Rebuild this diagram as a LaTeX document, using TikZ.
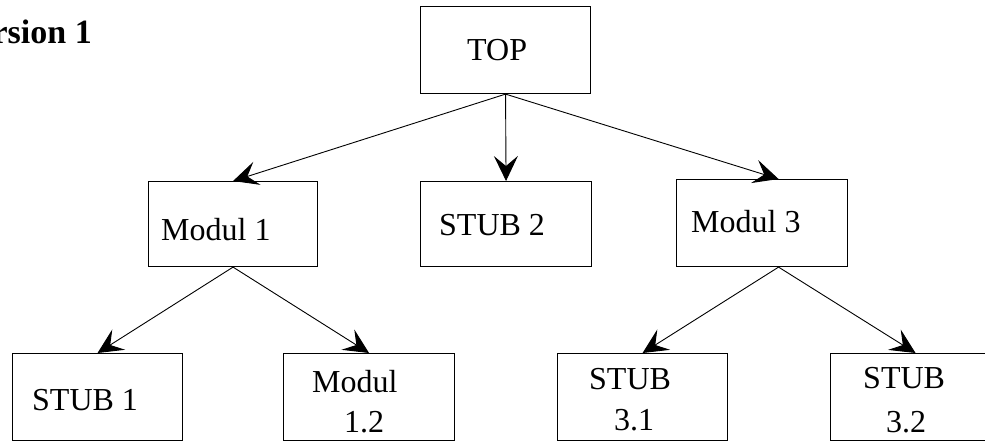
\documentclass[tikz,border=0pt]{standalone}
\usepackage{fontspec}
\setmainfont{Liberation Serif}
\usetikzlibrary{arrows.meta}
\begin{document}
\begin{tikzpicture}[x=1pt,y=-1pt,
  box/.style={draw, line width=1.1pt, inner sep=0pt, anchor=north west},
  lbl/.style={font=\fontsize{32}{40}\selectfont, inner sep=0pt, anchor=base west},
  link/.style={line width=0.9pt, -{Stealth[length=25pt,width=24pt,inset=10pt]}}]
\clip (0,0) rectangle (985,440);

% title
\node[font=\fontsize{34}{40}\selectfont\bfseries, inner sep=0pt, anchor=base east] (title) at (92,43) {Version 1};

% module boxes
\node[box, minimum width=170pt, minimum height=87pt] (top) at (420,6) {};
\node[box, minimum width=169pt, minimum height=85pt] (m1)  at (148,181) {};
\node[box, minimum width=171pt, minimum height=85pt] (s2)  at (420,181) {};
\node[box, minimum width=171pt, minimum height=87pt] (m3)  at (676,179) {};
\node[box, minimum width=170pt, minimum height=87pt] (s1)  at (12,353) {};
\node[box, minimum width=171pt, minimum height=87pt] (m12) at (283,353) {};
\node[box, minimum width=170pt, minimum height=87pt] (s31) at (557,353) {};
\node[box, minimum width=170pt, minimum height=87pt] (s32) at (830,353) {};

% box texts
\node[lbl] (ttop) at (467,60)  {TOP};
\node[lbl] (tm1)  at (161,240) {Modul 1};
\node[lbl] (ts2)  at (439,235) {STUB 2};
\node[lbl] (tm3)  at (691,232) {Modul 3};
\node[lbl] (ts1)  at (32,410)  {STUB 1};
\node[lbl] (tm12a) at (312,392) {Modul};
\node[lbl] (tm12b) at (344,432) {1.2};
\node[lbl] (ts31a) at (589,389) {STUB};
\node[lbl] (ts31b) at (614,430) {3.1};
\node[lbl] (ts32a) at (863,388) {STUB};
\node[lbl] (ts32b) at (886,432) {3.2};

% calls
\draw[link] (top.south) -- (m1.north);
\draw[link] (top.south) -- (s2.north);
\draw[link] (top.south) -- ([xshift=16.5pt]m3.north);
\draw[link] (m1.south) -- (s1.north);
\draw[link] (m1.south) -- (m12.north);
\draw[link] ([xshift=16.5pt]m3.south) -- (s31.north);
\draw[link] ([xshift=16.5pt]m3.south) -- (s32.north);
\end{tikzpicture}
\end{document}
